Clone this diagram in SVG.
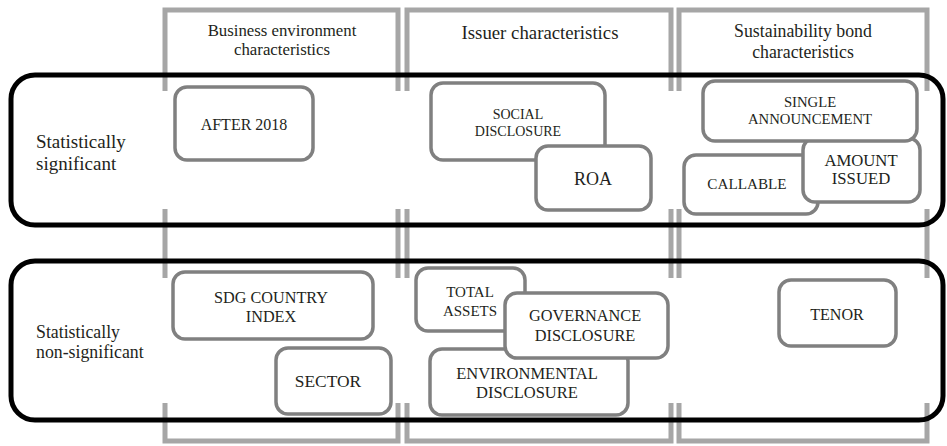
<svg xmlns="http://www.w3.org/2000/svg" width="947" height="446" viewBox="0 0 947 446">
<style>
.frame{fill:none;stroke:#a6a6a6;stroke-width:5}
.grp{fill:none;stroke:#000;stroke-width:5}
.node rect{fill:#fff;stroke:#808080;stroke-width:3.5}
text{font-family:"Liberation Serif","Times New Roman",serif;fill:#231f20;text-anchor:middle}
.lbl{text-anchor:start}
</style>
<rect width="947" height="446" fill="#fff"/>
<g id="columns">
<path class="frame" d="M165,91 V10 H398 V91 M407,91 V10 H671 V91 M679,91 V10 H927 V91"/>
<path class="frame" d="M165,209 V278 M398,209 V278 M407,209 V278 M671,209 V278 M679,209 V278 M927,209 V278"/>
<path class="frame" d="M165,403 V441 H398 V403 M407,403 V441 H671 V403 M679,403 V441 H927 V403"/>
<text x="282" y="36" font-size="16.8">Business environment</text>
<text x="282" y="55" font-size="16.8">characteristics</text>
<text x="540" y="39" font-size="18.8">Issuer characteristics</text>
<text x="803" y="37" font-size="17.8">Sustainability bond</text>
<text x="803" y="58" font-size="17.8">characteristics</text>
</g>
<g id="row-significant">
<rect class="grp" x="11" y="75" width="932" height="150" rx="24"/>
<text class="lbl" x="36" y="148" font-size="19">Statistically</text>
<text class="lbl" x="36" y="170" font-size="19">significant</text>
</g>
<g id="row-nonsignificant">
<rect class="grp" x="11" y="261" width="932" height="159" rx="24"/>
<text class="lbl" x="36" y="338" font-size="17.8">Statistically</text>
<text class="lbl" x="36" y="358" font-size="17.8">non-significant</text>
</g>
<g id="after2018" class="node"><rect x="175" y="87" width="138" height="73" rx="12"/><text x="244" y="130" font-size="16">AFTER 2018</text></g>
<g id="social" class="node"><rect x="431" y="83" width="174" height="77" rx="12"/><text x="518" y="119" font-size="14">SOCIAL</text><text x="518" y="136" font-size="14">DISCLOSURE</text></g>
<g id="roa" class="node"><rect x="536" y="146" width="115" height="64" rx="12"/><text x="593" y="185" font-size="18">ROA</text></g>
<g id="callable" class="node"><rect x="684" y="155" width="134" height="59" rx="12"/><text x="747" y="189" font-size="15.2">CALLABLE</text></g>
<g id="amount" class="node"><rect x="803" y="138" width="117" height="64" rx="12"/><text x="861" y="166" font-size="16.7">AMOUNT</text><text x="861" y="184" font-size="16.7">ISSUED</text></g>
<g id="single" class="node"><rect x="703" y="81" width="214" height="60" rx="12"/><text x="810" y="107" font-size="14.7">SINGLE</text><text x="810" y="124" font-size="14.7">ANNOUNCEMENT</text></g>
<g id="sdg" class="node"><rect x="173" y="272" width="200" height="67" rx="12"/><text x="271" y="303" font-size="16.2">SDG COUNTRY</text><text x="271" y="322" font-size="16.2">INDEX</text></g>
<g id="sector" class="node"><rect x="276" y="348" width="115" height="66" rx="12"/><text x="328" y="387" font-size="17.4">SECTOR</text></g>
<g id="totalassets" class="node"><rect x="416" y="268" width="109" height="63" rx="12"/><text x="470" y="297" font-size="15">TOTAL</text><text x="470" y="315.5" font-size="15">ASSETS</text></g>
<g id="environmental" class="node"><rect x="430" y="349" width="198" height="66" rx="12"/><text x="527" y="379" font-size="16.5">ENVIRONMENTAL</text><text x="527" y="398" font-size="16.5">DISCLOSURE</text></g>
<g id="governance" class="node"><rect x="505" y="293" width="163" height="65" rx="12"/><text x="585" y="321" font-size="16.3">GOVERNANCE</text><text x="585" y="341" font-size="16.3">DISCLOSURE</text></g>
<g id="tenor" class="node"><rect x="779" y="280" width="117" height="66" rx="12"/><text x="837" y="319.5" font-size="16.1">TENOR</text></g>
</svg>
